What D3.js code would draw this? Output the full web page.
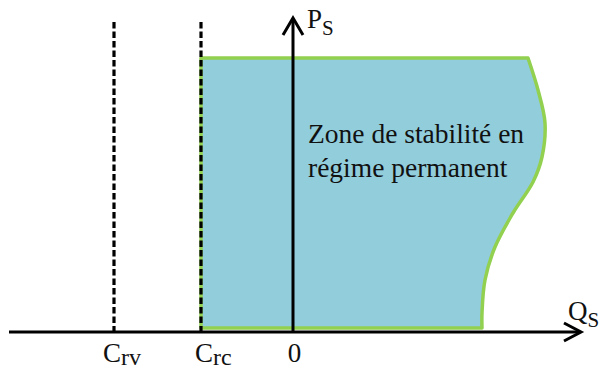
<!DOCTYPE html>
<html>
<head>
<meta charset="utf-8">
<script src="https://cdn.jsdelivr.net/npm/d3@7"></script>
<style>
  body { margin: 0; background: #fff; }
</style>
</head>
<body>
<div id="chart"></div>
<script>
// Limits on the Q axis (arbitrary units, origin at 0)
const limits = [
  {name: "C", sub: "rv", q: -1.79},
  {name: "C", sub: "rc", q: -0.92}
];
const pTop = 2.74;      // upper bound of the stability zone
const pBottom = 0.04;
// right-hand boundary of the zone, from top to bottom
const boundary = [
  {q: 2.35, p: 2.74},
  {q: 2.45, p: 2.42},
  {q: 2.52, p: 2.09},
  {q: 2.49, p: 1.75},
  {q: 2.40, p: 1.50},
  {q: 2.20, p: 1.19},
  {q: 2.02, p: 0.85},
  {q: 1.92, p: 0.52},
  {q: 1.89, p: 0.19},
  {q: 1.89, p: 0.04}
];
const zoneText = ["Zone de stabilité en", "régime permanent"];

const width = 601, height = 369;

// pick a serif face that is really installed
const ctx = document.createElement("canvas").getContext("2d");
const probe = "Zone de stabilité WMil 0123";
const widthWith = f => { ctx.font = `40px ${f}`; return ctx.measureText(probe).width; };
const base1 = widthWith("monospace"), base2 = widthWith("sans-serif");
const candidates = ["Liberation Serif", "DejaVu Serif", "Noto Serif", "Tinos", "FreeSerif", "Times New Roman", "Times"];
const found = candidates.filter(f => {
  const w1 = widthWith(`"${f}", monospace`), w2 = widthWith(`"${f}", sans-serif`);
  return w1 !== base1 || w2 !== base2;
});
const serif = (found.length ? `"${found[0]}", ` : "") + "serif";

const svg = d3.select("#chart")
  .append("svg")
  .attr("width", width)
  .attr("height", height)
  .style("display", "block");

const x = d3.scaleLinear().domain([-2.84, 2.88]).range([9, 581]);
const y = d3.scaleLinear().domain([0, 3.14]).range([332, 18]);

// Stability zone
const leftEdge = limits[1].q;
const pts = [{q: leftEdge, p: pBottom}, {q: leftEdge, p: pTop}];
const edge = d3.line().x(d => x(d.q)).y(d => y(d.p));
const curve = d3.line().x(d => x(d.q)).y(d => y(d.p)).curve(d3.curveCatmullRom.alpha(0.5));

const zonePath = edge(pts) + "L" + curve(boundary).slice(1) + "Z";
svg.append("path")
  .attr("d", zonePath)
  .attr("fill", "#92CDDC")
  .attr("stroke", "#92D050")
  .attr("stroke-width", 3.5)
  .attr("stroke-linejoin", "round");

// Dashed limits
svg.selectAll(".limit")
  .data(limits)
  .enter().append("line")
  .attr("class", "limit")
  .attr("x1", d => x(d.q)).attr("x2", d => x(d.q))
  .attr("y1", y(3.10)).attr("y2", y(0))
  .attr("stroke", "#000")
  .attr("stroke-width", 3.2)
  .attr("stroke-dasharray", "6.5,3");

// Axes
svg.append("line")
  .attr("x1", x.range()[0]).attr("x2", x.range()[1] - 1)
  .attr("y1", y(0)).attr("y2", y(0))
  .attr("stroke", "#000").attr("stroke-width", 3);
svg.append("line")
  .attr("x1", x(0)).attr("x2", x(0))
  .attr("y1", y(0)).attr("y2", y.range()[1] + 1)
  .attr("stroke", "#000").attr("stroke-width", 3);

// open arrow heads
const xt = x.range()[1], yt = y.range()[1];
svg.append("path")
  .attr("d", `M${xt - 17},${y(0) - 9}L${xt},${y(0)}L${xt - 17},${y(0) + 9}`)
  .attr("fill", "none").attr("stroke", "#000").attr("stroke-width", 3);
svg.append("path")
  .attr("d", `M${x(0) - 10},${yt + 17}L${x(0)},${yt}L${x(0) + 10},${yt + 17}`)
  .attr("fill", "none").attr("stroke", "#000").attr("stroke-width", 3);

// Axis labels
const axisLabel = (px, py, main, sub) => {
  const t = svg.append("text").attr("x", px).attr("y", py)
    .style("font-family", serif)
    .attr("font-size", 27).attr("fill", "#111");
  t.append("tspan").text(main);
  t.append("tspan").attr("font-size", 21).attr("dy", 7).text(sub);
};
axisLabel(x(0) + 14, 28, "P", "S");
axisLabel(568, 320, "Q", "S");

// Tick labels
limits.forEach((d, i) => {
  const t = svg.append("text")
    .attr("x", x(d.q) - (i === 0 ? 11 : 6))
    .attr("y", 362)
    .style("font-family", serif)
    .attr("font-size", 27).attr("fill", "#111");
  t.append("tspan").text(d.name);
  t.append("tspan").attr("font-size", 24).attr("dy", 3).text(d.sub);
});
svg.append("text")
  .attr("x", x(0) + 1.5).attr("y", 362)
  .attr("text-anchor", "middle")
  .style("font-family", serif)
  .attr("font-size", 27).attr("fill", "#111")
  .text("0");

// Zone text
svg.append("g").selectAll("text")
  .data(zoneText)
  .enter().append("text")
  .attr("x", 308)
  .attr("y", (d, i) => 143 + i * 34)
  .style("font-family", serif)
  .attr("font-size", 27.5)
  .attr("fill", "#111")
  .text(d => d);
</script>
</body>
</html>
